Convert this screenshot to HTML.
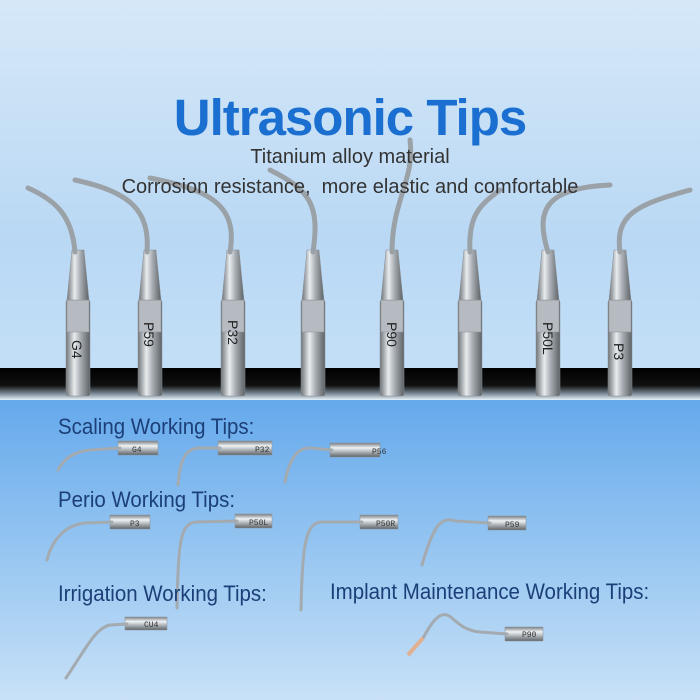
<!DOCTYPE html>
<html><head><meta charset="utf-8"><style>
html,body{margin:0;padding:0}
body{width:700px;height:700px;overflow:hidden;position:relative;font-family:"Liberation Sans",sans-serif}
.top{position:absolute;left:0;top:0;width:700px;height:400px;background:linear-gradient(#d6e8f8,#b9d8f4 60%,#c6e1f8)}
.bot{position:absolute;left:0;top:400px;width:700px;height:300px;background:linear-gradient(#65a9ec,#8cc0f0 40%,#c8e1f7)}
svg{position:absolute;left:0;top:0}
.lab{position:absolute;color:#1c3f78;font-size:22px;white-space:nowrap;transform:scaleX(.93);transform-origin:left}
</style></head><body>
<div class="top"></div><div class="bot"></div>
<svg width="700" height="700" viewBox="0 0 700 700">
<defs>
<linearGradient id="vs" x1="0" x2="1" y1="0" y2="0"><stop offset="0" stop-color="#6f7478"/><stop offset=".35" stop-color="#e8ecef"/><stop offset=".6" stop-color="#a9afb4"/><stop offset="1" stop-color="#5d6266"/></linearGradient>
<linearGradient id="hs" x1="0" x2="0" y1="0" y2="1"><stop offset="0" stop-color="#7a7f84"/><stop offset=".35" stop-color="#f0f3f5"/><stop offset=".65" stop-color="#aab0b5"/><stop offset="1" stop-color="#5f6468"/></linearGradient>
<linearGradient id="bar" x1="0" x2="0" y1="0" y2="1"><stop offset="0" stop-color="#000"/><stop offset=".55" stop-color="#111"/><stop offset=".8" stop-color="#7a8a96"/><stop offset="1" stop-color="#e8f2fa"/></linearGradient>
<g id="t"><rect x="-12" y="300" width="24" height="96" rx="2"/><rect x="-11" y="300" width="22" height="32" fill="#b5bbc0"/><path d="M-11 300 L-6 250 L6 250 L11 300Z"/></g>
</defs>
<rect x="0" y="368" width="700" height="32" fill="url(#bar)"/>
<g fill="url(#vs)" stroke="#8a9096" stroke-width=".5">
<use href="#t" x="78"/><use href="#t" x="150"/><use href="#t" x="233"/><use href="#t" x="313"/><use href="#t" x="392"/><use href="#t" x="470"/><use href="#t" x="548"/><use href="#t" x="620"/>
</g>
<g fill="none" stroke="#9aa1a7" stroke-width="5" stroke-linecap="round">
<path d="M75 252 C72 215 55 200 28 188"/>
<path d="M147 252 C150 210 130 192 75 180"/>
<path d="M230 252 C238 205 210 190 150 178"/>
<path d="M313 252 C320 205 310 190 270 170"/>
<path d="M392 252 C392 200 415 180 410 140"/>
<path d="M470 252 C468 215 480 205 500 190"/>
<path d="M548 252 C535 210 545 188 610 185"/>
<path d="M620 252 C615 215 635 205 690 190"/>
</g>
<g font-family="Liberation Sans" font-size="14" fill="#222">
<text transform="translate(72,340) rotate(90)">G4</text>
<text transform="translate(144,322) rotate(90)">P59</text>
<text transform="translate(228,320) rotate(90)">P32</text>
<text transform="translate(387,322) rotate(90)">P90</text>
<text transform="translate(543,322) rotate(90)">P50L</text>
<text transform="translate(614,343) rotate(90)">P3</text>
</g>
<g fill="url(#hs)" stroke="#8a9096" stroke-width=".5">
<rect x="118" y="441" width="40" height="14"/><rect x="218" y="441" width="54" height="14"/><rect x="330" y="443" width="50" height="14"/>
<rect x="110" y="515" width="40" height="14"/><rect x="235" y="514" width="37" height="14"/><rect x="360" y="515" width="38" height="14"/><rect x="488" y="516" width="38" height="14"/>
<rect x="125" y="617" width="42" height="13"/><rect x="505" y="627" width="38" height="14"/>
</g>
<g fill="none" stroke="#a3aab0" stroke-width="3" stroke-linecap="round">
<path d="M120 448 L90 450 C70 452 62 462 58 470"/>
<path d="M220 448 L200 448 C185 448 180 460 178 485"/>
<path d="M332 450 L310 448 C295 447 288 465 285 482"/>
<path d="M112 522 L85 523 C65 525 52 540 47 560"/>
<path d="M237 521 L195 522 C180 524 178 545 177 608"/>
<path d="M362 522 L320 522 C305 524 302 550 301 610"/>
<path d="M490 523 L455 521 C440 515 432 530 422 565"/>
<path d="M127 624 L110 625 C95 628 85 650 66 678"/>
<path d="M507 634 L480 632 C460 630 455 618 447 615 C438 612 430 625 422 640"/>
</g>
<path d="M423 638 L408 655" stroke="#e0b090" stroke-width="4"/>
<g font-family="Liberation Mono" font-size="8" fill="#333">
<text x="132" y="452">G4</text><text x="255" y="452">P32</text><text x="372" y="454">P56</text>
<text x="130" y="526">P3</text><text x="249" y="525">P50L</text><text x="376" y="526">P50R</text><text x="505" y="527">P59</text>
<text x="144" y="627">CU4</text><text x="522" y="637">P90</text>
</g>
</svg>
<div style="position:absolute;left:0;width:700px;top:88px;text-align:center;font-size:51px;font-weight:bold;color:#1a6fd0;letter-spacing:-1px">Ultrasonic Tips</div>
<div style="position:absolute;left:0;width:700px;top:146px;text-align:center;font-size:20px;color:#333">Titanium alloy material</div>
<div style="position:absolute;left:0;width:700px;top:176px;text-align:center;font-size:20px;color:#333">Corrosion resistance,&nbsp; more elastic and comfortable</div>
<div class="lab" style="left:58px;top:414px">Scaling Working Tips:</div>
<div class="lab" style="left:58px;top:487px">Perio Working Tips:</div>
<div class="lab" style="left:58px;top:581px">Irrigation Working Tips:</div>
<div class="lab" style="left:330px;top:579px">Implant Maintenance Working Tips:</div>
</body></html>
